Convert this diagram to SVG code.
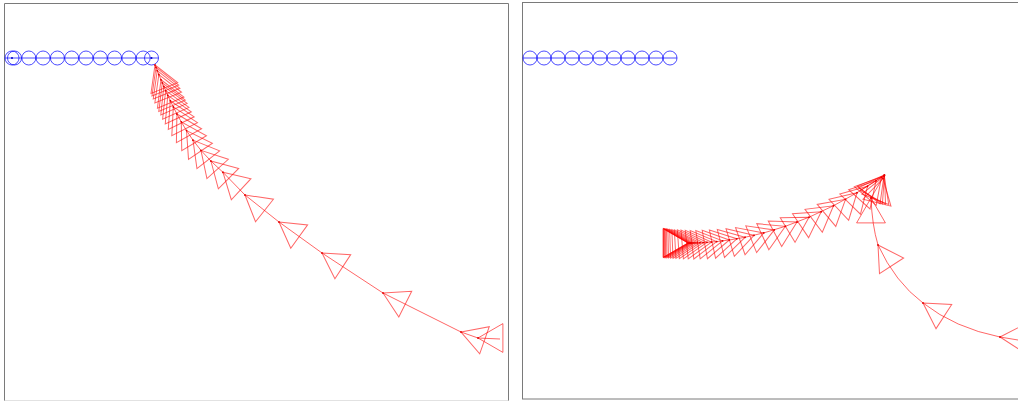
<svg xmlns="http://www.w3.org/2000/svg" xmlns:xlink="http://www.w3.org/1999/xlink" width="1018" height="401" viewBox="0 0 1018 401">
<style>
.frame{fill:none;stroke:#7a7a7a;stroke-width:1}
.faint{stroke:#e2e2e2;stroke-width:1}
.ball{fill:none;stroke:#0000ff;stroke-opacity:0.7;stroke-width:1}
.rod{stroke:#0000ff;stroke-opacity:0.7;stroke-width:1}
.bdot{fill:#0000cc}
.tri{fill:none;stroke:#ff0000;stroke-opacity:0.6;stroke-width:1}
.path{fill:none;stroke:#ff0000;stroke-opacity:0.6;stroke-width:1}
</style>
<defs>
<g id="tri" class="tri"><polygon points="0,0 24.9,-14.4 24.9,14.4"/><circle r="0.9" fill="#e00000" stroke="none"/></g>
</defs>
<rect width="1018" height="401" fill="#fff"/>
<g id="left-panel">
<path class="frame" d="M4.5,401 V3.5 H508.5 V401"/>
<line class="faint" x1="4.5" y1="400.5" x2="508.5" y2="400.5"/>
</g>
<g id="right-panel">
<rect class="frame" x="522.5" y="2.5" width="500" height="396.5"/>
</g>
<g id="left-balls">
<line class="rod" x1="5" y1="58" x2="158.5" y2="58"/>
<circle class="ball" cx="12" cy="58" r="7"/>
<circle class="ball" cx="14.5" cy="58" r="7"/>
<circle class="ball" cx="28.8" cy="58" r="7"/>
<circle class="ball" cx="43.1" cy="58" r="7"/>
<circle class="ball" cx="57.4" cy="58" r="7"/>
<circle class="ball" cx="71.7" cy="58" r="7"/>
<circle class="ball" cx="86" cy="58" r="7"/>
<circle class="ball" cx="100.3" cy="58" r="7"/>
<circle class="ball" cx="114.6" cy="58" r="7"/>
<circle class="ball" cx="128.9" cy="58" r="7"/>
<circle class="ball" cx="143.2" cy="58" r="7"/>
<circle class="ball" cx="151.5" cy="58" r="7"/>
<circle class="bdot" cx="12" cy="58" r="1"/>
<circle class="bdot" cx="151.5" cy="58" r="1"/>
</g>
<g id="right-balls">
<line class="rod" x1="523" y1="58" x2="677" y2="58"/>
<circle class="ball" cx="530" cy="58" r="7"/>
<circle class="ball" cx="544" cy="58" r="7"/>
<circle class="ball" cx="558" cy="58" r="7"/>
<circle class="ball" cx="572" cy="58" r="7"/>
<circle class="ball" cx="586" cy="58" r="7"/>
<circle class="ball" cx="600" cy="58" r="7"/>
<circle class="ball" cx="614" cy="58" r="7"/>
<circle class="ball" cx="628" cy="58" r="7"/>
<circle class="ball" cx="642" cy="58" r="7"/>
<circle class="ball" cx="656" cy="58" r="7"/>
<circle class="ball" cx="670" cy="58" r="7"/>
</g>
<g id="connectors">
<polyline class="path" points="155,65 155.98,67.41 157.25,70.56 158.86,74.54 160.97,79.73 162.3,82.86 163.82,86.45 165.65,90.56 167.77,95.31 170.31,100.75 173.33,106.95 176.92,113.99 181.28,121.87 186.53,130.61 192.96,140.14 200.97,150.38 210.93,161.05 222.92,172.24 245,195 279,222 322,253 383,293 461,332 478,338 500,339"/>
<polyline class="path" points="688,243 693.1,242.95 700,242.75 707,242.36 716.7,241.55 729.3,240 745,237.28 763.8,232.89 785.4,226.3 809,217.23 833.5,205.74 857,192.73 876,180.79 884.4,175.11 871,198"/>
<path class="path" d="M871,198 Q872,225 878,245 Q895,282 923,303 Q955,328 1000,337 L1018,340"/>
</g>
<g id="left-chain">
<use href="#tri" transform="translate(155 65) rotate(68)"/>
<use href="#tri" transform="translate(155.98 67.41) rotate(68)"/>
<use href="#tri" transform="translate(157.25 70.56) rotate(68)"/>
<use href="#tri" transform="translate(158.86 74.54) rotate(68)"/>
<use href="#tri" transform="translate(160.97 79.73) rotate(67)"/>
<use href="#tri" transform="translate(162.3 82.86) rotate(67)"/>
<use href="#tri" transform="translate(163.82 86.45) rotate(66)"/>
<use href="#tri" transform="translate(165.65 90.56) rotate(66)"/>
<use href="#tri" transform="translate(167.77 95.31) rotate(65)"/>
<use href="#tri" transform="translate(170.31 100.75) rotate(64)"/>
<use href="#tri" transform="translate(173.33 106.95) rotate(63)"/>
<use href="#tri" transform="translate(176.92 113.99) rotate(61)"/>
<use href="#tri" transform="translate(181.28 121.87) rotate(59)"/>
<use href="#tri" transform="translate(186.53 130.61) rotate(56)"/>
<use href="#tri" transform="translate(192.96 140.14) rotate(52)"/>
<use href="#tri" transform="translate(200.97 150.38) rotate(48)"/>
<use href="#tri" transform="translate(210.93 161.05) rotate(45)"/>
<use href="#tri" transform="translate(222.92 172.24) rotate(43)"/>
<use href="#tri" transform="translate(245 195) rotate(38.5)"/>
<use href="#tri" transform="translate(279 222) rotate(35.8)"/>
<use href="#tri" transform="translate(322 253) rotate(33.3)"/>
<use href="#tri" transform="translate(383 293) rotate(26.6)"/>
<use href="#tri" transform="translate(461 332) rotate(19.4)"/>
<use href="#tri" transform="translate(478 338) rotate(0)"/>
</g>
<g id="right-chain">
<use href="#tri" transform="translate(688 243) rotate(180)"/>
<use href="#tri" transform="translate(688.3 243) rotate(179.9)"/>
<use href="#tri" transform="translate(688.8 243) rotate(179.8)"/>
<use href="#tri" transform="translate(689.5 243) rotate(179.6)"/>
<use href="#tri" transform="translate(690.4 242.99) rotate(179.4)"/>
<use href="#tri" transform="translate(691.6 242.98) rotate(179.1)"/>
<use href="#tri" transform="translate(693.1 242.95) rotate(178.7)"/>
<use href="#tri" transform="translate(695 242.91) rotate(178.2)"/>
<use href="#tri" transform="translate(697.3 242.85) rotate(177.6)"/>
<use href="#tri" transform="translate(700 242.75) rotate(176.9)"/>
<use href="#tri" transform="translate(703.2 242.59) rotate(176.1)"/>
<use href="#tri" transform="translate(707 242.36) rotate(175.2)"/>
<use href="#tri" transform="translate(711.5 242.03) rotate(174)"/>
<use href="#tri" transform="translate(716.7 241.55) rotate(172.7)"/>
<use href="#tri" transform="translate(722.6 240.89) rotate(171.2)"/>
<use href="#tri" transform="translate(729.3 240) rotate(169.5)"/>
<use href="#tri" transform="translate(736.8 238.81) rotate(167.6)"/>
<use href="#tri" transform="translate(745 237.28) rotate(165.5)"/>
<use href="#tri" transform="translate(754 235.33) rotate(163.2)"/>
<use href="#tri" transform="translate(763.8 232.89) rotate(160.7)"/>
<use href="#tri" transform="translate(774.3 229.89) rotate(158)"/>
<use href="#tri" transform="translate(785.4 226.3) rotate(155.2)"/>
<use href="#tri" transform="translate(797 222.09) rotate(152.2)"/>
<use href="#tri" transform="translate(809 217.23) rotate(149.1)"/>
<use href="#tri" transform="translate(821.2 211.77) rotate(146)"/>
<use href="#tri" transform="translate(833.5 205.74) rotate(142.9)"/>
<use href="#tri" transform="translate(845.5 199.34) rotate(139.8)"/>
<use href="#tri" transform="translate(857 192.73) rotate(136.9)"/>
<use href="#tri" transform="translate(867.5 186.29) rotate(134.2)"/>
<use href="#tri" transform="translate(876 180.79) rotate(132)"/>
<use href="#tri" transform="translate(881.5 177.1) rotate(130.6)"/>
<use href="#tri" transform="translate(884 175.39) rotate(128)"/>
<use href="#tri" transform="translate(884.4 175.11) rotate(124)"/>
<use href="#tri" transform="translate(884.5 175.3) rotate(118)"/>
<use href="#tri" transform="translate(884.2 176) rotate(111)"/>
<use href="#tri" transform="translate(883 178.5) rotate(104)"/>
<use href="#tri" transform="translate(871 198) rotate(90)"/>
<use href="#tri" transform="translate(878 245) rotate(57)"/>
<use href="#tri" transform="translate(923 303) rotate(33)"/>
<use href="#tri" transform="translate(1000 337) rotate(3)"/>
</g>
</svg>
